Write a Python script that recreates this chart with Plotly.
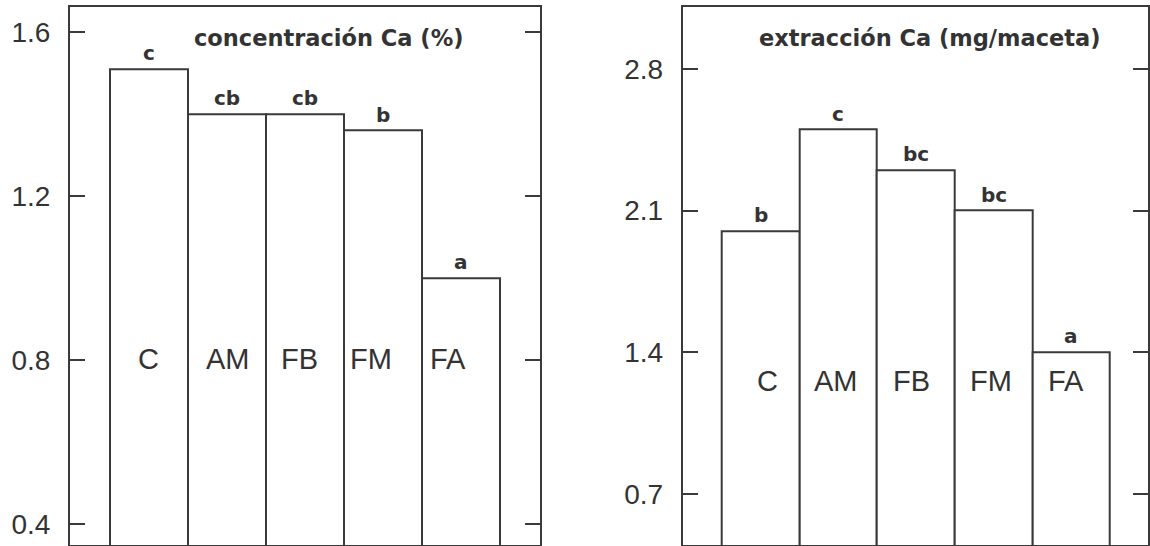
import plotly.graph_objects as go

# ---- data ----
treatments = ["C", "AM", "FB", "FM", "FA"]
conc_values = [1.51, 1.40, 1.40, 1.36, 1.00]
conc_letters = ["c", "cb", "cb", "b", "a"]
extr_values = [2.00, 2.50, 2.30, 2.10, 1.40]
extr_letters = ["b", "c", "bc", "bc", "a"]
conc_ticks = [0.4, 0.8, 1.2, 1.6]
extr_ticks = [0.7, 1.4, 2.1, 2.8]
conc_title = "concentración Ca (%)"
extr_title = "extracción Ca (mg/maceta)"

LINE = "#3a3a3a"
TXT = "#333333"
W, H = 1150, 546

fig = go.Figure()

panels = [
    dict(vals=conc_values, letters=conc_letters, ticks=conc_ticks, title=conc_title,
         xa="x", ya="y", xdom=[70 / W, 539.5 / W], xr=[-1.012, 5.003], yr=[0.3495, 1.661],
         tickfmt=".1f", name_yfrac=0.346, name_shift=[0, 1, -6, -12, -13]),
    dict(vals=extr_values, letters=extr_letters, ticks=extr_ticks, title=extr_title,
         xa="x2", ya="y2", xdom=[682.7 / W, 1147.7 / W], xr=[-1.002, 4.985], yr=[0.448, 3.105],
         tickfmt=".1f", name_yfrac=0.305, name_shift=[7, -2, -4, -3, -5]),
]

ydom = [1 / H, 1 - 7.3 / H]
layout_axes = {}
annotations = []
for i, p in enumerate(panels):
    fig.add_trace(go.Bar(
        x=list(range(len(treatments))), y=p["vals"], width=1.0,
        marker=dict(color="white", line=dict(color=LINE, width=2)),
        xaxis=p["xa"], yaxis=p["ya"], showlegend=False, hoverinfo="skip",
    ))
    sfx = "" if i == 0 else "2"
    layout_axes["xaxis" + sfx] = dict(
        domain=p["xdom"], range=p["xr"], anchor=p["ya"], showgrid=False, zeroline=False,
        showline=True, mirror=True, linecolor=LINE, linewidth=2,
        ticks="", showticklabels=False, fixedrange=True,
    )
    layout_axes["yaxis" + sfx] = dict(
        domain=ydom, range=p["yr"], anchor=p["xa"], showgrid=False, zeroline=False,
        showline=True, mirror="ticks", linecolor=LINE, linewidth=2,
        ticks="inside", ticklen=15, tickwidth=2, tickcolor=LINE,
        tickvals=p["ticks"], ticktext=[f"{t:.1f}" for t in p["ticks"]],
        tickfont=dict(family="Liberation Sans", size=28, color=TXT),
        ticklabelstandoff=12, fixedrange=True,
    )
    # title inside panel
    annotations.append(dict(
        text=p["title"], xref=p["xa"] + " domain", yref="paper",
        x=0.5 + (0.27 if i == 0 else 0.5) * 0 + (0.0 if i == 0 else 0.0),
        y=1 - 38 / H, showarrow=False, xanchor="center", yanchor="middle",
        font=dict(family="DejaVu Sans", size=22.5, color=TXT, weight="bold"),
    ))
    for j, (v, lt) in enumerate(zip(p["vals"], p["letters"])):
        annotations.append(dict(
            text=lt, x=j, y=v, xref=p["xa"], yref=p["ya"], showarrow=False,
            xanchor="center", yanchor="bottom", yshift=2,
            font=dict(family="DejaVu Sans", size=20, color=TXT, weight="bold"),
        ))
        annotations.append(dict(
            text=treatments[j], x=j, y=p["name_yfrac"], xref=p["xa"], yref=p["ya"] + " domain",
            showarrow=False, xanchor="center", yanchor="middle", xshift=p["name_shift"][j],
            font=dict(family="Liberation Sans", size=29, color=TXT),
        ))

# shift titles horizontally to match reference centres
annotations[0]["x"] = (328 - 70) / (539.5 - 70)
annotations[len(treatments) * 2 + 1]["x"] = (929.7 - 682.7) / (1147.7 - 682.7)

fig.update_layout(
    width=W, height=H, margin=dict(l=0, r=0, t=0, b=0),
    paper_bgcolor="white", plot_bgcolor="white",
    bargap=0, annotations=annotations, **layout_axes,
)

fig.write_html("out.html", config={"displayModeBar": False})
